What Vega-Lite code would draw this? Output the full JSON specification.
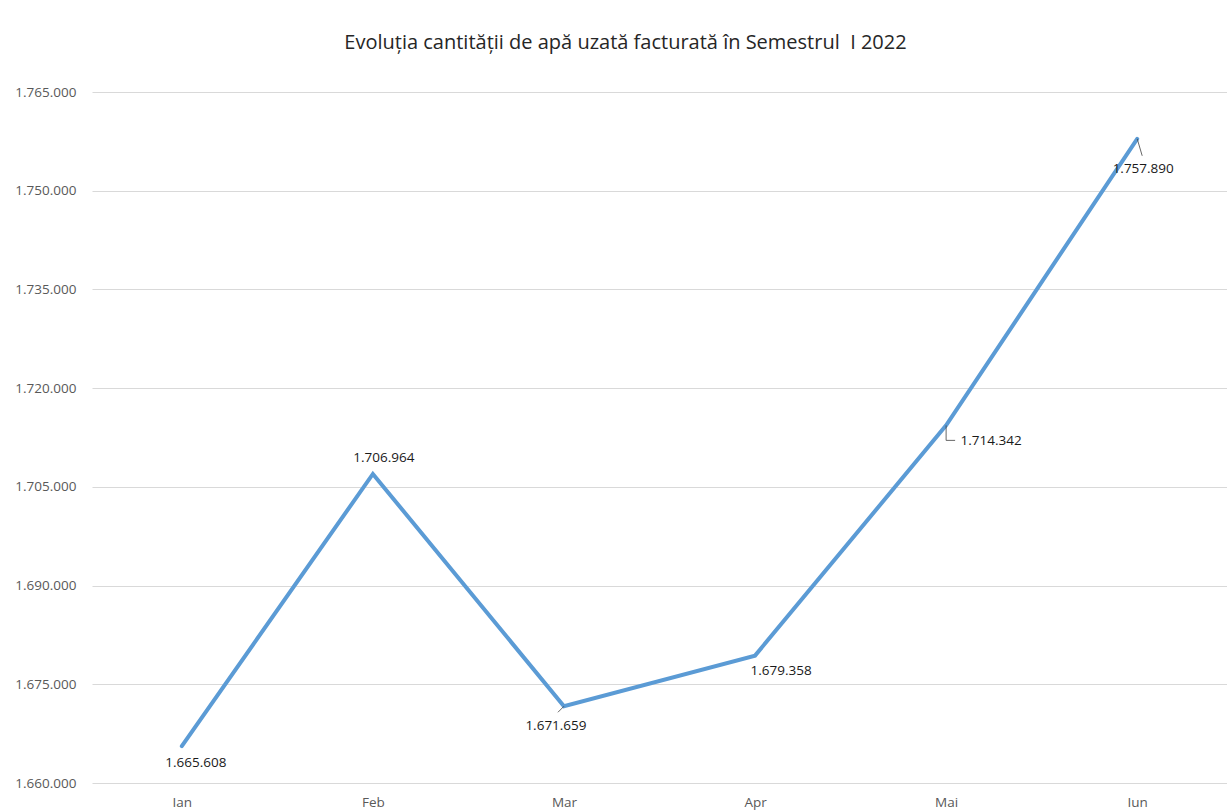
{
  "$schema": "https://vega.github.io/schema/vega-lite/v6.json",
  "autosize": "none",
  "width": 1135,
  "height": 691,
  "padding": {"left": 92, "top": 92, "right": 0, "bottom": 28},
  "background": "white",
  "config": {
    "locale": {"number": {"decimal": ",", "thousands": ".", "grouping": [3], "currency": ["", ""]}},
    "view": {"stroke": null},
    "font": "Open Sans"
  },
  "title": {
    "text": "Evoluția cantității de apă uzată facturată în Semestrul \u00a0I 2022",
    "font": "Open Sans",
    "fontSize": 20,
    "fontWeight": "normal",
    "color": "#262626",
    "anchor": "middle",
    "frame": "group",
    "dx": -34,
    "offset": 32
  },
  "data": {
    "values": [
      {"luna": "Ian", "valoare": 1665608},
      {"luna": "Feb", "valoare": 1706964},
      {"luna": "Mar", "valoare": 1671659},
      {"luna": "Apr", "valoare": 1679358},
      {"luna": "Mai", "valoare": 1714342},
      {"luna": "Iun", "valoare": 1757890}
    ]
  },
  "encoding": {
    "x": {
      "field": "luna",
      "type": "ordinal",
      "sort": null,
      "scale": {"type": "point", "padding": 0.47},
      "axis": {
        "title": null,
        "labelAngle": 0,
        "domain": false,
        "ticks": false,
        "grid": false,
        "labelPadding": 12,
        "labelFontSize": 13.5,
        "labelColor": "#595959",
        "labelFont": "Open Sans"
      }
    },
    "y": {
      "field": "valoare",
      "type": "quantitative",
      "scale": {"domain": [1660000, 1765000], "zero": false, "nice": false},
      "axis": {
        "title": null,
        "values": [1660000, 1675000, 1690000, 1705000, 1720000, 1735000, 1750000, 1765000],
        "format": ",d",
        "domain": false,
        "ticks": false,
        "gridColor": "#d9d9d9",
        "gridWidth": 1,
        "labelPadding": 16,
        "labelFontSize": 13.5,
        "labelColor": "#595959",
        "labelFont": "Open Sans"
      }
    }
  },
  "layer": [
    {
      "mark": {"type": "line", "color": "#5B9BD5", "strokeWidth": 4, "strokeCap": "round", "strokeJoin": "miter"}
    },
    {
      "transform": [{"filter": "datum.luna === 'Mar'"}],
      "mark": {"type": "rule", "color": "#404040", "strokeWidth": 0.8, "x2Offset": -6, "y2Offset": 6},
      "encoding": {"x2": {"field": "luna"}, "y2": {"field": "valoare"}}
    },
    {
      "transform": [{"filter": "datum.luna === 'Iun'"}],
      "mark": {"type": "rule", "color": "#404040", "strokeWidth": 0.8, "x2Offset": 5, "y2Offset": 17},
      "encoding": {"x2": {"field": "luna"}, "y2": {"field": "valoare"}}
    },
    {
      "transform": [{"filter": "datum.luna === 'Mai'"}],
      "mark": {"type": "rule", "color": "#404040", "strokeWidth": 0.8, "y2Offset": 15},
      "encoding": {"x2": {"field": "luna"}, "y2": {"field": "valoare"}}
    },
    {
      "transform": [{"filter": "datum.luna === 'Mai'"}],
      "mark": {"type": "rule", "color": "#404040", "strokeWidth": 0.8, "yOffset": 15, "y2Offset": 15, "x2Offset": 9},
      "encoding": {"x2": {"field": "luna"}, "y2": {"field": "valoare"}}
    },
    {
      "transform": [{"filter": "datum.luna === 'Ian'"}],
      "mark": {"type": "text", "dx": 14, "dy": 17, "fontSize": 13.5, "color": "#1a1a1a", "font": "Open Sans"},
      "encoding": {"text": {"field": "valoare", "type": "quantitative", "format": ",d"}}
    },
    {
      "transform": [{"filter": "datum.luna === 'Feb'"}],
      "mark": {"type": "text", "dx": 11, "dy": -16, "fontSize": 13.5, "color": "#1a1a1a", "font": "Open Sans"},
      "encoding": {"text": {"field": "valoare", "type": "quantitative", "format": ",d"}}
    },
    {
      "transform": [{"filter": "datum.luna === 'Mar'"}],
      "mark": {"type": "text", "dx": -8, "dy": 20, "fontSize": 13.5, "color": "#1a1a1a", "font": "Open Sans"},
      "encoding": {"text": {"field": "valoare", "type": "quantitative", "format": ",d"}}
    },
    {
      "transform": [{"filter": "datum.luna === 'Apr'"}],
      "mark": {"type": "text", "dx": 26, "dy": 15, "fontSize": 13.5, "color": "#1a1a1a", "font": "Open Sans"},
      "encoding": {"text": {"field": "valoare", "type": "quantitative", "format": ",d"}}
    },
    {
      "transform": [{"filter": "datum.luna === 'Mai'"}],
      "mark": {"type": "text", "dx": 45, "dy": 16, "fontSize": 13.5, "color": "#1a1a1a", "font": "Open Sans"},
      "encoding": {"text": {"field": "valoare", "type": "quantitative", "format": ",d"}}
    },
    {
      "transform": [{"filter": "datum.luna === 'Iun'"}],
      "mark": {"type": "text", "dx": 6, "dy": 30, "fontSize": 13.5, "color": "#1a1a1a", "font": "Open Sans"},
      "encoding": {"text": {"field": "valoare", "type": "quantitative", "format": ",d"}}
    }
  ]
}
